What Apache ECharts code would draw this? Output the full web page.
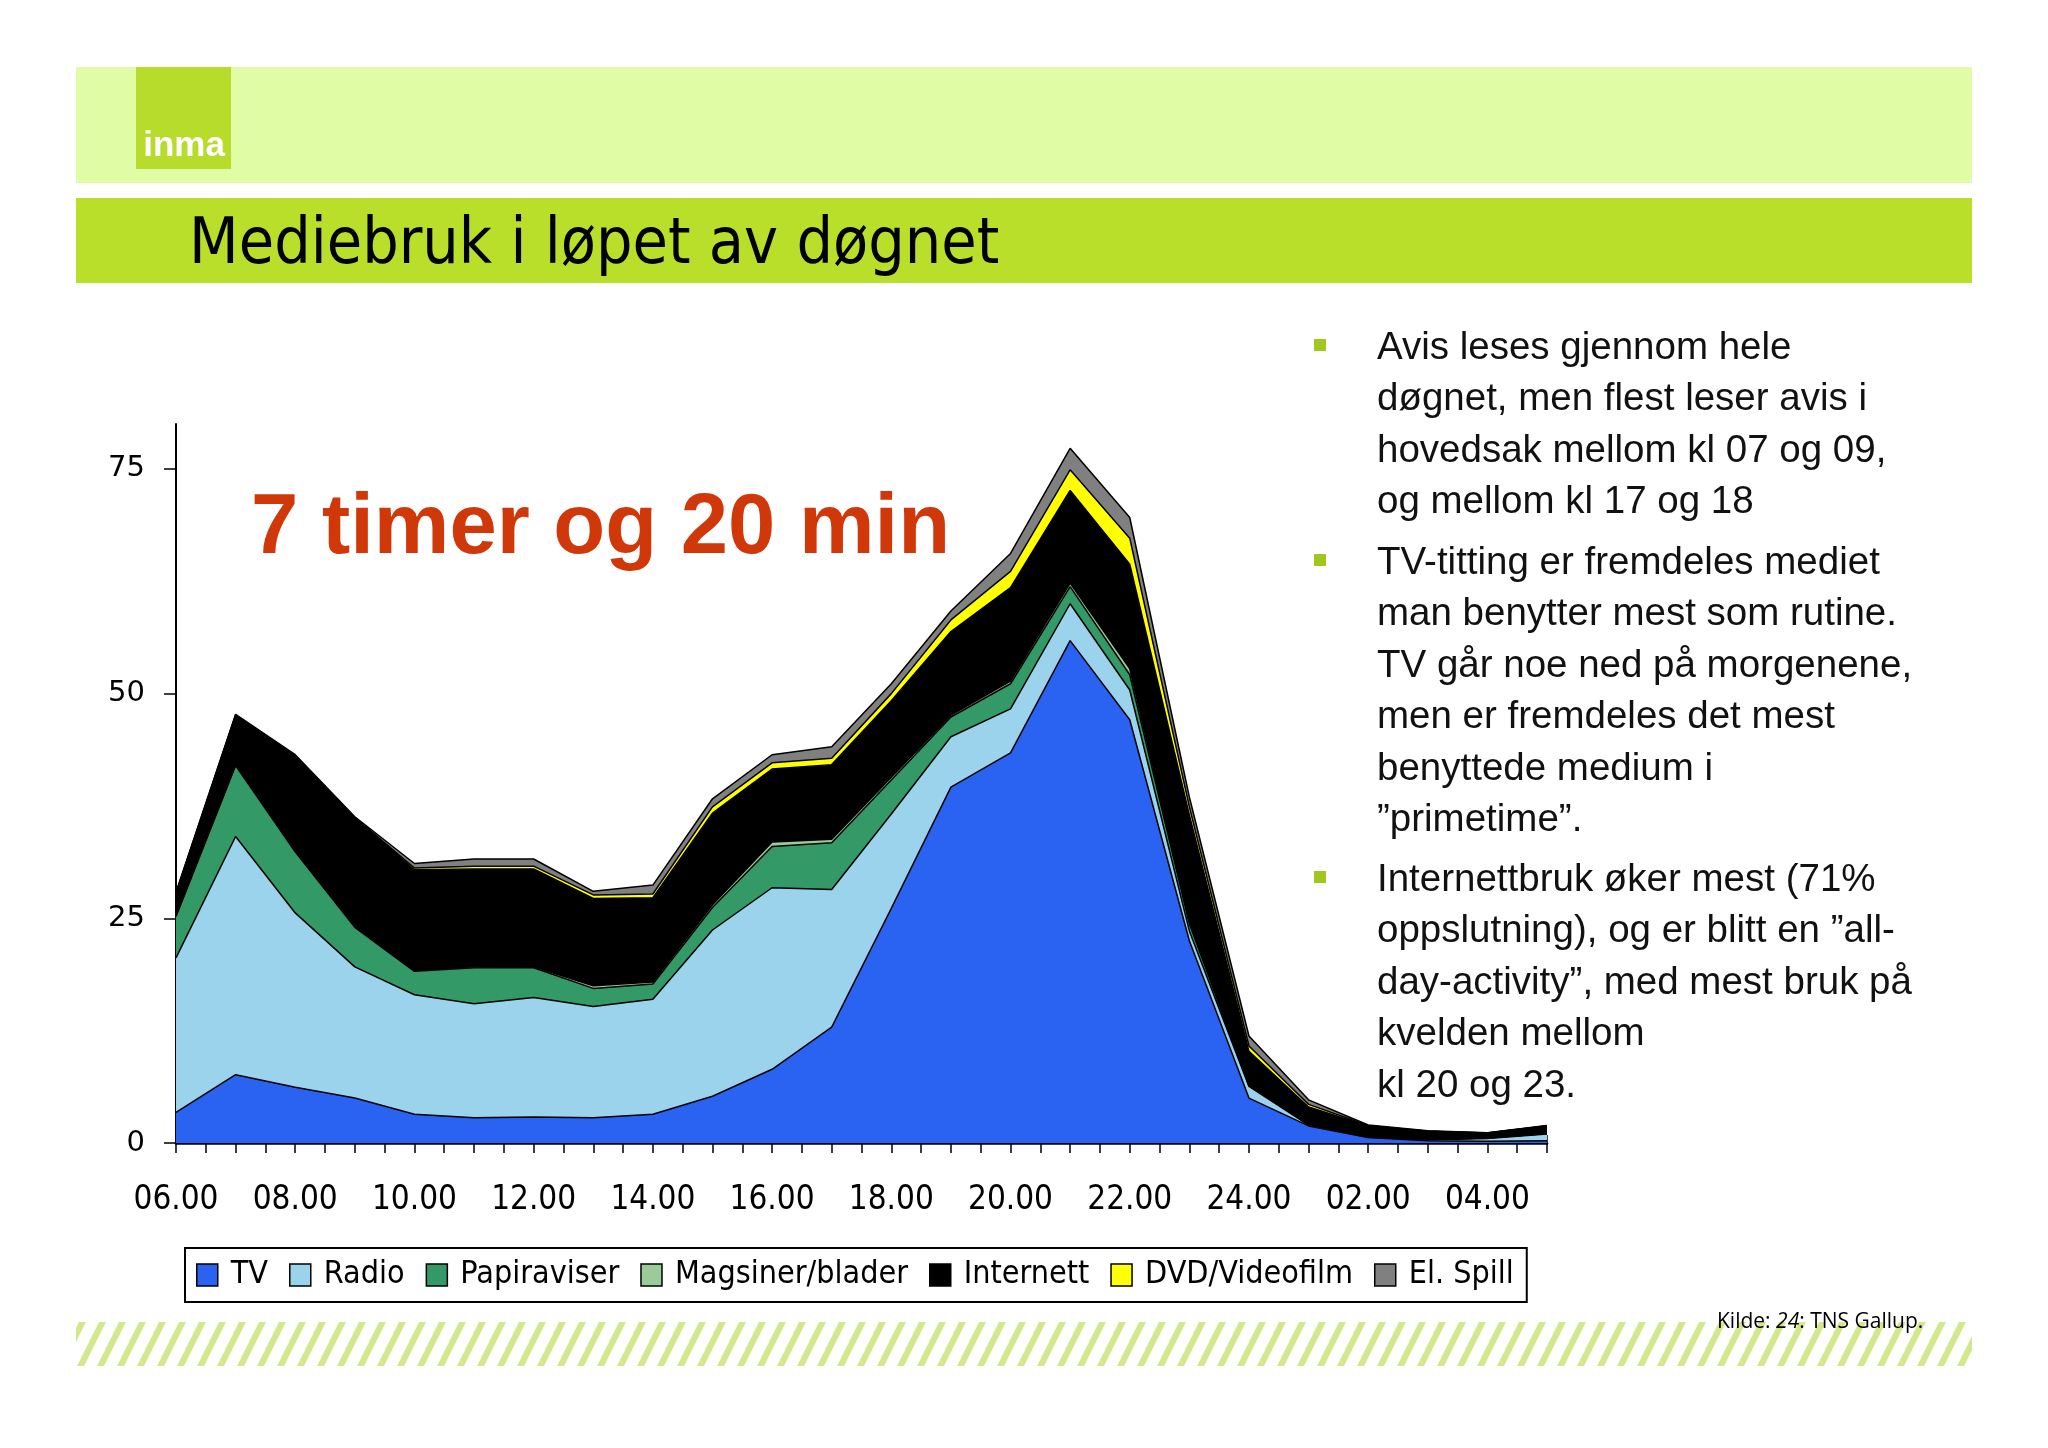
<!DOCTYPE html>
<html>
<head>
<meta charset="utf-8">
<script src="https://cdn.jsdelivr.net/npm/echarts@6/dist/echarts.min.js"></script>
<style>
html,body{margin:0;padding:0;background:#fff;}
#c{width:2048px;height:1448px;}
</style>
</head>
<body>
<div id="c"></div>
<script>
// ---- data ----
const hours = ['06','07','08','09','10','11','12','13','14','15','16','17','18','19','20','21','22','23','24','01','02','03','04','05'];
const xTickLabels = ['06.00','08.00','10.00','12.00','14.00','16.00','18.00','20.00','22.00','24.00','02.00','04.00'];
const yTickValues = [0, 25, 50, 75];
const seriesNames = ['TV','Radio','Papiraviser','Magsiner/blader','Internett','DVD/Videofilm','El. Spill'];

const tv        = [3.4, 7.6, 6.2, 5.0, 3.2, 2.8, 2.9, 2.8, 3.2, 5.2, 8.2, 12.9, 26.1, 39.6, 43.4, 55.9, 47.1, 22.5, 5.0, 1.9, 0.6, 0.25, 0.2, 0.25];
const radio     = [17.2, 26.5, 19.4, 14.6, 13.3, 12.7, 13.3, 12.4, 12.8, 18.5, 20.2, 15.3, 10.5, 5.6, 4.9, 4.1, 3.3, 1.1, 1.3, 0.1, 0.05, 0.1, 0.3, 0.75];
const papir     = [4.6, 7.9, 6.8, 4.4, 2.6, 4.0, 3.3, 2.0, 1.7, 2.5, 4.6, 5.2, 3.8, 2.2, 2.8, 1.9, 1.7, 0.8, 0.1, 0.1, 0.05, 0.05, 0.05, 0.05];
const magasin   = [0.1, 0.1, 0.1, 0.1, 0.1, 0.1, 0.1, 0.3, 0.2, 0.3, 0.5, 0.4, 0.3, 0.2, 0.3, 0.4, 0.7, 0.3, 0.1, 0.05, 0.02, 0.02, 0.02, 0.02];
const internett = [2.5, 5.5, 10.6, 12.1, 11.2, 10.9, 10.9, 9.7, 9.4, 10.2, 8.1, 8.3, 8.5, 9.3, 10.4, 10.3, 11.6, 11.8, 3.7, 1.85, 1.18, 0.88, 0.53, 0.83];
const dvd       = [0, 0, 0, 0, 0.2, 0.3, 0.3, 0.4, 0.4, 0.7, 0.7, 0.7, 0.8, 1.3, 1.8, 2.3, 2.9, 0.9, 0.6, 0.3, 0.05, 0.02, 0.02, 0.02];
const spill     = [0.1, 0.1, 0.1, 0.1, 0.5, 0.8, 0.8, 0.4, 1.0, 0.9, 0.9, 1.3, 1.1, 1.0, 2.0, 2.4, 2.3, 1.1, 1.1, 0.5, 0.05, 0.03, 0.03, 0.03];

const seriesValues = [tv, radio, papir, magasin, internett, dvd, spill];
const colors = ['#2a63f2', '#9bd2ec', '#339966', '#99cc99', '#000000', '#ffff00', '#808080'];

const bullets = [
  'Avis leses gjennom hele\ndøgnet, men flest leser avis i\nhovedsak mellom kl 07 og 09,\nog mellom kl 17 og 18',
  'TV-titting er fremdeles mediet\nman benytter mest som rutine.\nTV går noe ned på morgenene,\nmen er fremdeles det mest\nbenyttede medium i\n”primetime”.',
  'Internettbruk øker mest (71%\noppslutning), og er blitt en ”all-\nday-activity”, med mest bruk på\nkvelden mellom\nkl 20 og 23.'
];
const bulletCenters = [345, 560, 877];

// ---- styling helpers ----
const COND = '"DejaVu Sans Condensed", "Liberation Sans Narrow", "DejaVu Sans", sans-serif';

function stripePattern() {
  const c = document.createElement('canvas');
  c.width = 20; c.height = 40;
  const g = c.getContext('2d');
  g.fillStyle = '#ffffff';
  g.fillRect(0, 0, 20, 40);
  g.fillStyle = '#d3e78c';
  [-20, 0, 20].forEach(off => {
    g.beginPath();
    g.moveTo(off, 40); g.lineTo(off + 7, 40); g.lineTo(off + 27, 0); g.lineTo(off + 20, 0);
    g.closePath(); g.fill();
  });
  return c;
}

const halfHourTicks = [];
for (let i = 0; i <= (hours.length - 1) * 2; i++) halfHourTicks.push(i / 2);

const chart = echarts.init(document.getElementById('c'), null, {renderer: 'canvas'});

const graphics = [
  {type: 'rect', shape: {x: 76, y: 67, width: 1896, height: 116}, style: {fill: '#e0fda6'}, z: 0},
  {type: 'rect', shape: {x: 136, y: 67, width: 95, height: 102}, style: {fill: '#b8dc2c'}, z: 1},
  {type: 'text', x: 184, y: 146, style: {text: 'inma', font: 'bold 35px "Liberation Sans", Arial, sans-serif', fill: '#ffffff', align: 'center', verticalAlign: 'middle'}, z: 2},
  {type: 'rect', shape: {x: 76, y: 198, width: 1896, height: 85}, style: {fill: '#b9df2a'}, z: 0},
  {type: 'text', x: 189, y: 246, style: {text: 'Mediebruk i løpet av døgnet', font: '64px ' + COND, fill: '#000', align: 'left', verticalAlign: 'middle'}, z: 2},
  {type: 'text', x: 251, y: 530, style: {text: '7 timer og 20 min', font: 'bold 85px "Liberation Sans", Arial, sans-serif', fill: '#d0380a', align: 'left', verticalAlign: 'middle'}, z: 50},
  {type: 'rect', shape: {x: 76, y: 1322, width: 1896, height: 44}, style: {fill: {image: stripePattern(), repeat: 'repeat'}}, z: 0},
  {type: 'text', x: 1717, y: 1322, style: {
      text: '{a|Kilde: }{b|24}{a|: TNS Gallup.}',
      verticalAlign: 'middle', align: 'left',
      rich: {
        a: {font: '21px "Open Sans", "Liberation Sans", sans-serif', fill: '#000'},
        b: {font: 'italic 21px "Open Sans", "Liberation Sans", sans-serif', fill: '#000'}
      }
    }, z: 5}
];
bullets.forEach((t, i) => {
  graphics.push({type: 'rect', shape: {x: 1314, y: bulletCenters[i] - 6, width: 12, height: 12}, style: {fill: '#a0c81e'}, z: 2});
  graphics.push({type: 'text', x: 1377, y: bulletCenters[i] + 3 - 25.75, style: {
    text: t, font: '38.5px "Liberation Sans", Arial, sans-serif', fill: '#111', align: 'left', verticalAlign: 'top', lineHeight: 51.5
  }, z: 2});
});

const tickAxisBase = {
  type: 'value', min: 0, max: hours.length - 1, interval: 0.5, position: 'bottom',
  axisLine: {show: false},
  axisLabel: {show: false},
  splitLine: {show: false}
};

const option = {
  animation: false,
  backgroundColor: '#ffffff',
  grid: {left: 176, top: 424, width: 1371, height: 719, containLabel: false},
  xAxis: [
    {
      type: 'category', data: hours, boundaryGap: false, position: 'bottom',
      axisLine: {show: true, lineStyle: {color: '#000', width: 2.5}},
      axisTick: {show: false},
      axisLabel: {
        show: true, interval: 0, margin: 41, color: '#000', fontFamily: COND, fontSize: 33,
        formatter: (v, idx) => (idx % 2 === 0 ? (xTickLabels[idx / 2] || '') : '')
      },
      splitLine: {show: false}
    },
    Object.assign({}, tickAxisBase, {axisTick: {show: true, inside: false, length: 10, lineStyle: {color: '#000', width: 1.5}, customValues: halfHourTicks}}),
    Object.assign({}, tickAxisBase, {axisTick: {show: true, inside: true, length: 8, lineStyle: {color: '#000', width: 1.5}, customValues: halfHourTicks}})
  ],
  yAxis: {
    type: 'value', min: 0, max: 80,
    axisLine: {show: true, lineStyle: {color: '#000', width: 2}},
    axisTick: {show: true, inside: false, length: 12, lineStyle: {color: '#000', width: 1.5}, customValues: yTickValues},
    axisLabel: {show: true, margin: 31, color: '#000', fontFamily: '"DejaVu Sans", Verdana, sans-serif', fontSize: 29, customValues: yTickValues},
    splitLine: {show: false}
  },
  legend: {
    left: 185, top: 1248,
    orient: 'horizontal',
    padding: [11, 13, 11, 11],
    itemGap: 21,
    itemWidth: 21, itemHeight: 22,
    borderColor: '#000', borderWidth: 2,
    backgroundColor: '#fff',
    icon: 'rect',
    itemStyle: {borderColor: '#000', borderWidth: 1.5},
    textStyle: {fontFamily: COND, fontSize: 32, color: '#000', padding: [0, 0, 0, 8]},
    selectedMode: false,
    data: seriesNames
  },
  series: seriesNames.map((name, i) => ({
    name: name,
    type: 'line',
    stack: 'total',
    xAxisIndex: 0,
    yAxisIndex: 0,
    symbol: 'none',
    smooth: false,
    data: seriesValues[i],
    lineStyle: {color: '#000', width: 1.5},
    itemStyle: {color: colors[i]},
    areaStyle: {color: colors[i], opacity: 1},
    emphasis: {disabled: true},
    silent: true
  })),
  graphic: {elements: graphics}
};
chart.setOption(option);
</script>
</body>
</html>
